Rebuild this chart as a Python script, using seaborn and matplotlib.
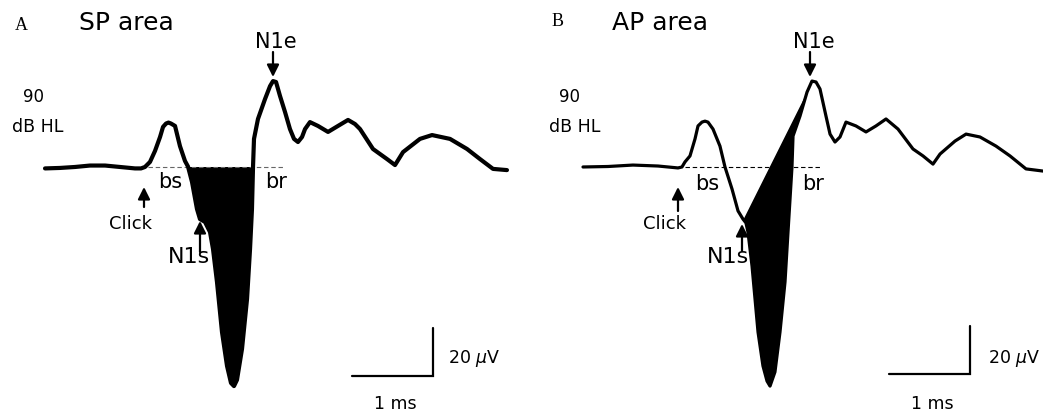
import numpy as np
import matplotlib
matplotlib.use("Agg")
import matplotlib.pyplot as plt
import seaborn as sns

# ---------------- data ----------------
# Panel A : time after click (ms) and amplitude (uV)
a_time_ms = [-1.222, -1.037, -0.852, -0.667, -0.481, -0.296, -0.111, -0.037, 0.012, 0.074,
             0.136, 0.198, 0.235, 0.272, 0.302, 0.333, 0.383, 0.444, 0.506, 0.543, 0.593,
             0.654, 0.691, 0.753, 0.815, 0.852, 0.901, 0.963, 1.025, 1.074, 1.111,
             1.148, 1.210, 1.272, 1.309, 1.333, 1.346, 1.358, 1.407, 1.494, 1.556,
             1.593, 1.630, 1.679, 1.741, 1.802, 1.852, 1.901, 1.951, 1.988, 2.049,
             2.148, 2.272, 2.395, 2.519, 2.605, 2.667, 2.827, 3.000, 3.099, 3.198,
             3.407, 3.556, 3.778, 3.988, 4.148, 4.309, 4.481]
a_amp_uv = [-0.8, -0.6, -0.2, 0.4, 0.4, -0.2, -0.8, -0.8, -0.2, 1.9,
            6.5, 12.3, 16.5, 17.9, 18.3, 17.9, 16.9, 8.5, 2.3, 0.0, -6.5,
            -17.7, -21.9, -23.1, -27.3, -34.4, -48.1, -69.0, -83.1, -90.2, -91.5,
            -88.9, -76.0, -55.2, -34.4, -17.7, 0.0, 11.5, 19.8, 28.1, 33.5,
            35.6, 35.2, 29.4, 22.7, 15.6, 11.5, 10.2, 12.3, 15.6, 18.5,
            16.9, 14.4, 16.9, 19.4, 17.7, 15.6, 7.3, 3.1, 0.6, 6.0,
            11.5, 13.1, 11.5, 7.3, 3.1, -1.0, -1.5]

# Panel B : time after click (ms) and amplitude (uV)
b_time_ms = [-1.210, -0.901, -0.593, -0.284, -0.037, 0.012, 0.049, 0.111, 0.173, 0.210,
             0.259, 0.296, 0.333, 0.395, 0.481, 0.543, 0.630, 0.704, 0.765, 0.802, 0.827,
             0.877, 0.914, 0.951, 1.012, 1.062, 1.099, 1.160, 1.222, 1.284, 1.321,
             1.346, 1.370, 1.383, 1.469, 1.556, 1.617, 1.667, 1.716, 1.790, 1.840,
             1.901, 1.963, 2.037, 2.160, 2.284, 2.407, 2.531, 2.679, 2.864, 2.988,
             3.111, 3.198, 3.383, 3.519, 3.691, 3.889, 4.062, 4.259, 4.469]
b_amp_uv = [-0.2, 0.0, 0.6, 0.2, -0.6, -0.2, 1.9, 4.4, 11.5, 16.9,
            18.5, 18.9, 18.5, 15.6, 8.5, -0.2, -9.4, -18.5, -21.9, -23.5, -27.3,
            -41.5, -55.2, -69.0, -83.1, -89.4, -91.5, -85.6, -69.0, -48.1, -27.3,
            -13.5, -0.2, 12.7, 21.0, 31.0, 35.6, 35.2, 32.3, 21.0, 13.5,
            10.2, 12.3, 18.5, 16.9, 14.4, 16.9, 19.8, 15.6, 7.3, 4.4,
            1.0, 5.2, 10.6, 13.5, 12.3, 8.5, 4.4, -1.0, -1.9]

b_n1s_ms = 0.765            # N1s latency used as the start of the AP area chord

panel_letters = ["A", "B"]
panel_titles = ["SP area", "AP area"]
level_labels = ["90", "dB HL"]
scale_amp_uv = 20
scale_time_ms = 1
scale_labels = ["20 $\\mu$V", "1 ms"]

# ---------------- style ----------------
sns.set_theme(style="white")
plt.rcParams['font.family'] = ['DejaVu Sans']
plt.rcParams['mathtext.fontset'] = 'dejavusans'
plt.rcParams['text.color'] = 'black'

W, H = 1043, 414
PX_PER_MS = 81.0
PX_PER_UV = 2.4
BASE_PY = 167.5

fig = plt.figure(figsize=(W / 100, H / 100), dpi=100)
fig.patch.set_facecolor("white")


def make_panel(x0, w, click_px):
    ax = fig.add_axes([x0 / W, 0, w / W, 1])
    ax.set_xlim(-click_px / PX_PER_MS, (w - click_px) / PX_PER_MS)
    ax.set_ylim((BASE_PY - H) / PX_PER_UV, BASE_PY / PX_PER_UV)
    ax.axis("off")
    return ax


def px2d(ax, px, py):
    """figure pixel (from top-left) -> data coords of ax"""
    inv = ax.transData.inverted()
    return inv.transform((px, H - py))


def text_px(px, py, s, **kw):
    fig.text(px / W, 1 - py / H, s, ha="center", va="center", color="black", **kw)


def arrow(ax, px, py_tail, py_tip):
    ax.annotate("", xy=px2d(ax, px, py_tip), xytext=px2d(ax, px, py_tail),
                arrowprops=dict(arrowstyle="-|>,head_length=0.6,head_width=0.3",
                                color="black", lw=1.6, shrinkA=0, shrinkB=0,
                                mutation_scale=12))


panels = [
    dict(x0=0, w=530, click=144, t=a_time_ms, v=a_amp_uv, lw=3.0, dash="#666666",
         dash_px=(148, 283), off=0),
    dict(x0=523, w=520, click=158, t=b_time_ms, v=b_amp_uv, lw=2.3, dash="black",
         dash_px=(685, 822), off=537),
]

for i, p in enumerate(panels):
    ax = make_panel(p["x0"], p["w"], p["click"])
    t = np.asarray(p["t"])
    v = np.asarray(p["v"])
    fig.canvas.draw()

    if i == 0:
        # SP area: trace below the baseline
        mask = (t > 0.5) & (t < 1.4)
        ax.fill_between(t, v, 0, where=mask & (v <= 0), interpolate=True,
                        color="black", lw=0)
    else:
        # AP area: between trace and chord from N1s to N1e
        i1 = int(np.argmin(np.abs(t - b_n1s_ms)))
        i2 = int(np.argmax(v))
        ts, vs = t[i1:i2 + 1], v[i1:i2 + 1]
        chord = np.interp(ts, [ts[0], ts[-1]], [vs[0], vs[-1]])
        ax.fill_between(ts, vs, chord, color="black", lw=0)

    sns.lineplot(x=t, y=v, ax=ax, color="black", linewidth=p["lw"],
                 estimator=None, solid_joinstyle="round", solid_capstyle="round")

    # baseline (dashed)
    xa = px2d(ax, p["dash_px"][0], BASE_PY)[0]
    xb = px2d(ax, p["dash_px"][1], BASE_PY)[0]
    ax.plot([xa, xb], [0, 0], color=p["dash"], lw=0.8, dashes=(4, 2.5), zorder=1)

    off = p["off"]
    # scale bars
    cx, cy = px2d(ax, 433 + off, 377 - (2 if i else 0))
    ax.plot([cx - scale_time_ms, cx, cx], [cy, cy, cy + scale_amp_uv],
            color="black", lw=1.6, solid_joinstyle="miter")

    # arrows
    if i == 0:
        arrow(ax, 144, 208, 188)
        arrow(ax, 200, 253, 222)
        arrow(ax, 273, 53, 78)
    else:
        arrow(ax, 678, 212, 188)
        arrow(ax, 742, 252, 225)
        arrow(ax, 810, 53, 78)

    # texts
    text_px(21 + off, 25 - (3 if i else 0),
            panel_letters[i], family="Liberation Serif", fontsize=13)
    text_px(126 + off + (0 if i == 0 else -3), 23, panel_titles[i], fontsize=18)
    text_px(276 + off + (1 if i else 0), 42, "N1e", fontsize=15)
    text_px(33 + off, 97, level_labels[0], fontsize=12)
    text_px(38 + off, 127, level_labels[1], fontsize=12.5)
    text_px(170 + off, 182 + (2 if i else 0), "bs", fontsize=15)
    text_px(276 + off, 182 + (2 if i else 0), "br", fontsize=15)
    text_px(130 + off - (2 if i else 0), 224, "Click", fontsize=13)
    text_px(189 + off + (2 if i else 0), 257, "N1s", fontsize=16)
    text_px(474 + off + (3 if i else 0), 359, scale_labels[0], fontsize=12.5)
    text_px(395 + off, 404, scale_labels[1], fontsize=12.5)

fig.savefig("out.png", dpi=100, facecolor="white")
